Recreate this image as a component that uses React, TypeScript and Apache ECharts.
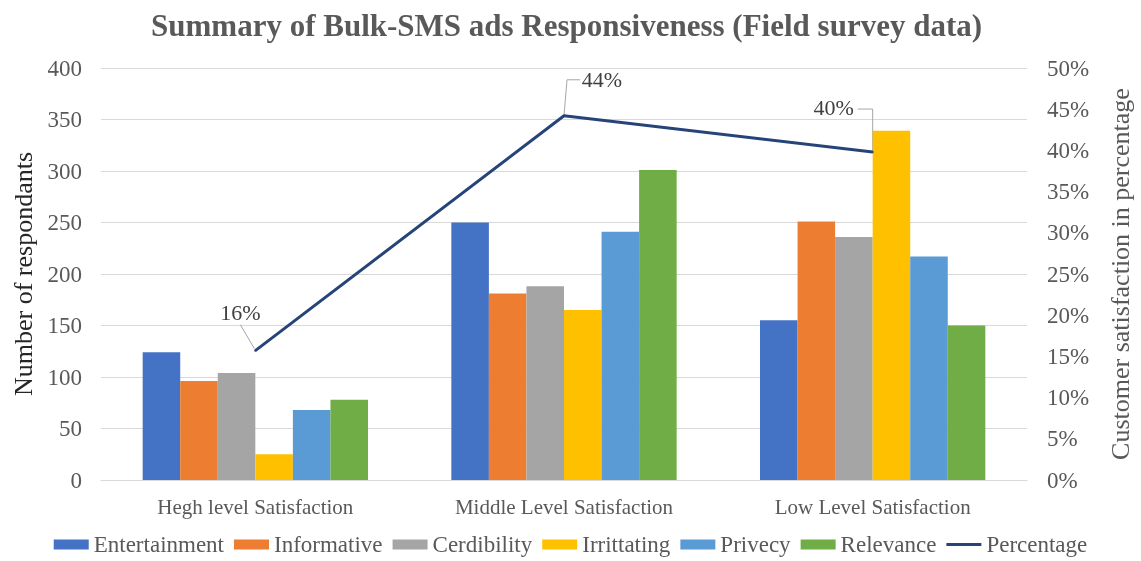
import React, { useEffect, useRef } from "react";
import * as echarts from "echarts";

const categories = ["Hegh level Satisfaction", "Middle Level Satisfaction", "Low Level Satisfaction"];
const seriesNames = ["Entertainment", "Informative", "Cerdibility", "Irrittating", "Privecy", "Relevance"];
const entertainment = [124, 250, 155];
const informative = [96, 181, 251];
const cerdibility = [104, 188, 236];
const irrittating = [25, 165, 339];
const privecy = [68, 241, 217];
const relevance = [78, 301, 150];
const percentage = [0.157, 0.442, 0.398];
const barColors = ["#4472C4", "#ED7D31", "#A5A5A5", "#FFC000", "#5B9BD5", "#70AD47"];
const lineColor = "#264478";

const labelOffsets = [
  [-15, -38],
  [38, -36],
  [-39, -45],
];

const FONT = "'Liberation Serif', 'Times New Roman', serif";

export default function App() {
  const ref = useRef<HTMLDivElement>(null);
  useEffect(() => {
    if (!ref.current) return;
    const chart = echarts.init(ref.current, undefined, { renderer: "svg" });
    const barData = [entertainment, informative, cerdibility, irrittating, privecy, relevance];
    const option: any = {
      animation: false,
      textStyle: { fontFamily: FONT },
      title: {
        text: "Summary of Bulk-SMS ads Responsiveness (Field survey data)",
        left: 146,
        top: 5,
        textStyle: { fontFamily: FONT, fontSize: 31, fontWeight: "bold", color: "#595959" },
      },
      legend: {
        bottom: 0,
        left: "center",
        itemWidth: 35,
        itemHeight: 10,
        itemGap: 10,
        textStyle: { fontFamily: FONT, fontSize: 23, color: "#595959" },
        data: [
          ...seriesNames.map((n) => ({ name: n, icon: "rect" })),
          { name: "Percentage", icon: "path://M0,3.5 L35,3.5 L35,6.5 L0,6.5 Z" },
        ],
      },
      grid: { left: 101, right: 114, top: 68, bottom: 81 },
      xAxis: {
        type: "category",
        data: categories,
        axisTick: { show: false },
        axisLine: { lineStyle: { color: "#d9d9d9" } },
        axisLabel: { fontFamily: FONT, fontSize: 21, color: "#595959", margin: 16 },
      },
      yAxis: [
        {
          type: "value",
          min: 0,
          max: 400,
          interval: 50,
          name: "Number of respondants",
          nameLocation: "middle",
          nameRotate: 90,
          nameGap: 63,
          nameTextStyle: { fontFamily: FONT, fontSize: 26, color: "#262626" },
          axisLabel: { fontFamily: FONT, fontSize: 23, color: "#595959", margin: 19 },
          splitLine: { lineStyle: { color: "#d9d9d9" } },
          axisLine: { show: false },
          axisTick: { show: false },
        },
        {
          type: "value",
          min: 0,
          max: 0.5,
          interval: 0.05,
          position: "right",
          name: "Customer satisfaction in percentage",
          nameLocation: "middle",
          nameRotate: 90,
          nameGap: 80,
          nameTextStyle: { fontFamily: FONT, fontSize: 26, color: "#595959" },
          axisLabel: {
            fontFamily: FONT,
            fontSize: 23,
            color: "#595959",
            margin: 20,
            formatter: (v: number) => Math.round(v * 100) + "%",
          },
          splitLine: { show: false },
          axisLine: { show: false },
          axisTick: { show: false },
        },
      ],
      series: [
        ...seriesNames.map((n, i) => ({
          name: n,
          type: "bar",
          data: barData[i],
          barGap: "0%",
          barCategoryGap: "27%",
          itemStyle: { color: barColors[i] },
        })),
        {
          name: "Percentage",
          type: "line",
          yAxisIndex: 1,
          data: percentage,
          symbol: "circle",
          symbolSize: 2,
          z: 3,
          itemStyle: { color: lineColor },
          lineStyle: { color: lineColor, width: 3 },
          label: {
            show: true,
            position: "inside",
            fontFamily: FONT,
            fontSize: 22,
            color: "#404040",
            formatter: (p: any) => Math.round(p.value * 100) + "%",
          },
          labelLayout: (p: any) => {
            const [dx, dy] = labelOffsets[p.dataIndex];
            return { dx, dy };
          },
        },
      ],
    };
    chart.setOption(option);

    const lineSeriesIndex = seriesNames.length;
    const leaders: any[] = percentage.map((v, i) => {
      const [px, py] = chart.convertToPixel({ seriesIndex: lineSeriesIndex }, [i, v]) as number[];
      const [dx, dy] = labelOffsets[i];
      const cx = px + dx;
      const cy = py + dy;
      let pts: number[][];
      if (i === 0) {
        pts = [[cx, cy + 12], [px - 1, py - 2]];
      } else if (i === 1) {
        pts = [[px, py], [px + 3, cy], [cx - 22, cy]];
      } else {
        pts = [[cx + 24, cy + 2], [px, cy + 2], [px, py]];
      }
      return {
        type: "polyline",
        z: 2,
        shape: { points: pts },
        style: { stroke: "#a6a6a6", lineWidth: 1, fill: "none" },
        silent: true,
      };
    });
    chart.setOption({ graphic: leaders });
    return () => chart.dispose();
  }, []);
  return <div ref={ref} style={{ position: "fixed", left: 0, top: 0, width: 1141, height: 561 }} />;
}
